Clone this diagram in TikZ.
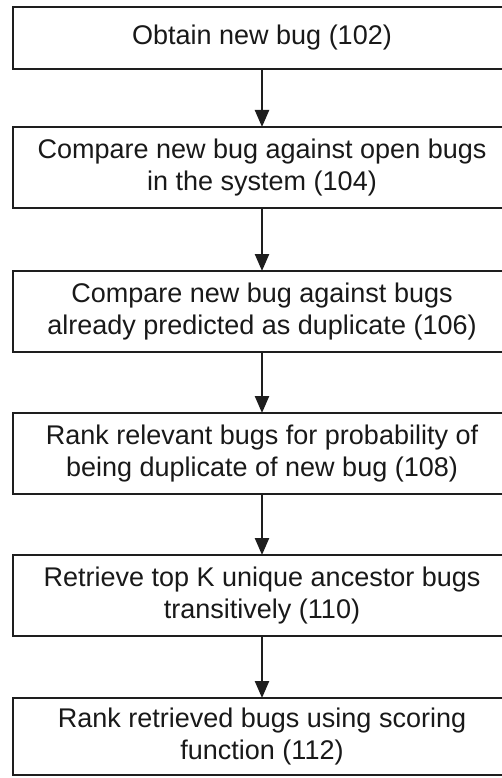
\documentclass[tikz,border=0pt]{standalone}
\usepackage{fontspec}
\setmainfont{Liberation Sans}
\usepackage{tikz}
\usetikzlibrary{arrows.meta,positioning}
\definecolor{boxline}{RGB}{30,30,30}
\definecolor{steptext}{RGB}{25,25,25}

\begin{document}
\begin{tikzpicture}[
  x=1pt, y=1pt,
  node distance = 61pt,
  stepbox/.style = {
    rectangle, draw=boxline, line width=2.6pt, fill=white, outer sep=0pt,
    minimum width=498pt, minimum height=81pt, align=center,
    text=steptext, font=\fontsize{27pt}{32pt}\selectfont
  },
  arr/.style = {-{Triangle[length=17pt,width=14pt]}, line width=2.4pt, boxline}
]
  \useasboundingbox (0,0) rectangle (502,-778);
  \node[stepbox, minimum height=62pt] (obtain) at (262,-38) {Obtain new bug (102)};
  \node[stepbox, below=58pt of obtain]  (open)   {Compare new bug against open bugs\\in the system (104)};
  \node[stepbox, below=63pt of open]    (dup)    {Compare new bug against bugs\\already predicted as duplicate (106)};
  \node[stepbox, below=of dup]          (rank)   {Rank relevant bugs for probability of\\being duplicate of new bug (108)};
  \node[stepbox, below=of rank]         (anc)    {Retrieve top K unique ancestor bugs\\transitively (110)};
  \node[stepbox, below=62pt of anc, minimum height=77pt] (score) {Rank retrieved bugs using scoring\\function (112)};

  \draw[arr] (obtain) -- (open);
  \draw[arr] (open)   -- (dup);
  \draw[arr] (dup)    -- (rank);
  \draw[arr] (rank)   -- (anc);
  \draw[arr] (anc)    -- (score);
\end{tikzpicture}
\end{document}
